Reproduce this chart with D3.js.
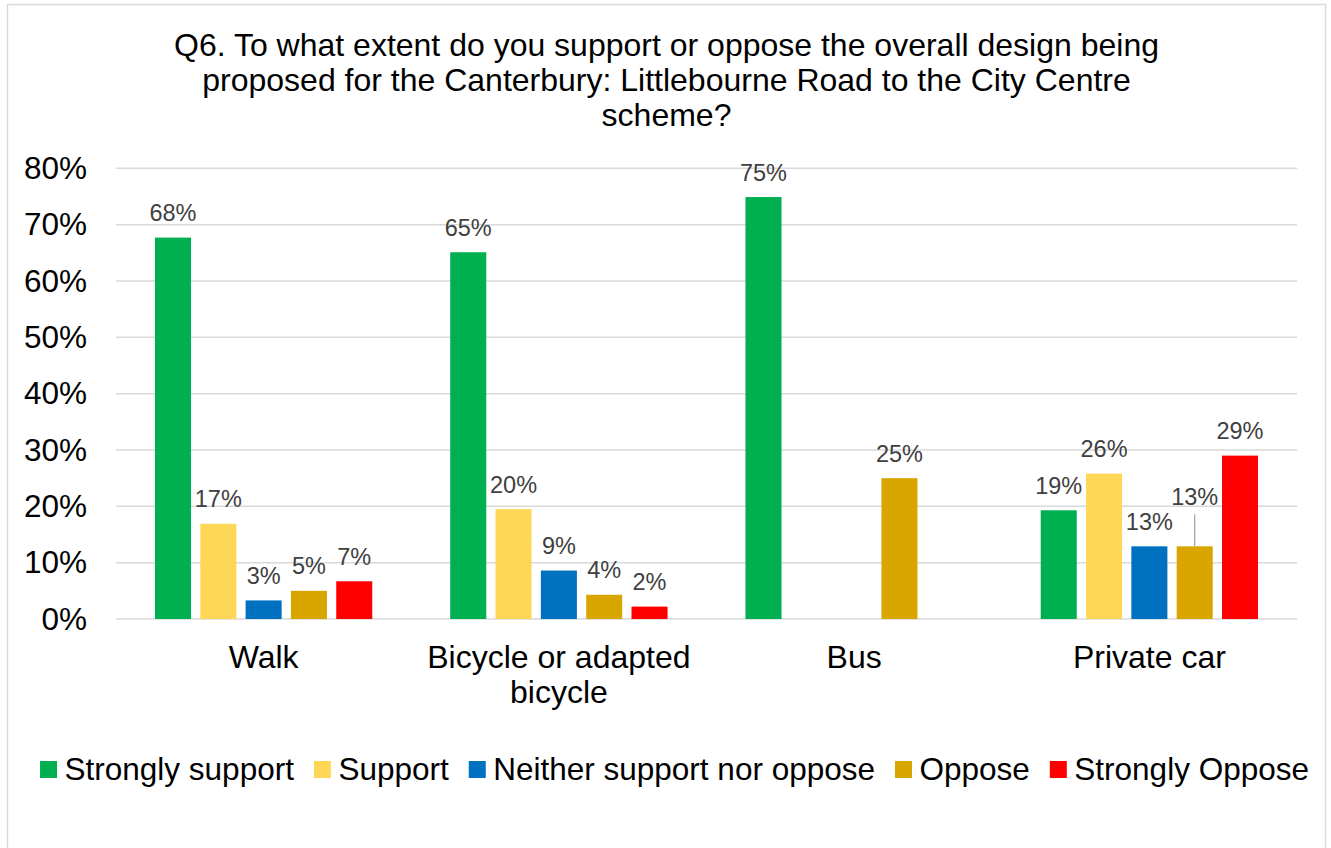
<!DOCTYPE html>
<html>
<head>
<meta charset="utf-8">
<script src="https://cdn.jsdelivr.net/npm/d3@7"></script>
<style>
  html, body { margin: 0; padding: 0; background: #fff; }
  svg { display: block; font-family: "Liberation Sans", Arial, sans-serif; }
</style>
</head>
<body>
<svg id="chart" width="1331" height="848"></svg>
<script>
// Survey responses by travel mode (percent of respondents)
const titleLines = [
  "Q6. To what extent do you support or oppose the overall design being",
  "proposed for the Canterbury: Littlebourne Road to the City Centre",
  "scheme?"
];
const categories = ["Walk", "Bicycle or adapted bicycle", "Bus", "Private car"];
const categoryLines = [["Walk"], ["Bicycle or adapted", "bicycle"], ["Bus"], ["Private car"]];
const series = ["Strongly support", "Support", "Neither support nor oppose", "Oppose", "Strongly Oppose"];
const seriesColors = ["#00B050", "#FFD757", "#0070C0", "#D9A600", "#FF0000"];

const stronglySupport = [67.7, 65.1, 74.9, 19.3];
const support         = [16.9, 19.5, null, 25.8];
const neither         = [3.3, 8.6, null, 12.9];
const oppose          = [5.0, 4.3, 25.0, 12.9];
const stronglyOppose  = [6.7, 2.2, null, 29.0];
const seriesValues = [stronglySupport, support, neither, oppose, stronglyOppose];

const yTicks = [0, 10, 20, 30, 40, 50, 60, 70, 80];

const svg = d3.select("#chart");
const plot = { left: 116, right: 1297, top: 168.3, bottom: 619 };
const FONT = "'Liberation Sans', Arial, sans-serif";

// chart frame
svg.append("rect")
  .attr("x", 7.5).attr("y", 4.5)
  .attr("width", 1318).attr("height", 900)
  .attr("fill", "#fff").attr("stroke", "#d9d9d9").attr("stroke-width", 1.5);

// title
svg.append("text")
  .attr("x", 666.5).attr("y", 56)
  .attr("text-anchor", "middle")
  .attr("font-size", 32).attr("fill", "#000")
  .selectAll("tspan").data(titleLines).join("tspan")
  .attr("x", 666.5).attr("dy", (d, i) => i === 0 ? 0 : 35)
  .text(d => d);

const y = d3.scaleLinear().domain([0, 80]).range([plot.bottom, plot.top]);
const x0 = d3.scaleBand().domain(categories).range([plot.left, plot.right]).padding(0);
const x1 = d3.scaleBand().domain(series).range([0, x0.bandwidth()])
  .paddingInner(0.205).paddingOuter(0.86);

// gridlines
svg.append("g").selectAll("line").data(yTicks).join("line")
  .attr("x1", plot.left).attr("x2", plot.right)
  .attr("y1", d => y(d)).attr("y2", d => y(d))
  .attr("stroke", "#d9d9d9").attr("stroke-width", 1.5);

// y axis labels
const yAxis = d3.axisLeft(y).tickValues(yTicks).tickFormat(d => d + "%").tickSize(0).tickPadding(29);
const gy = svg.append("g").attr("transform", `translate(${plot.left},0)`).call(yAxis);
gy.select(".domain").remove();
gy.selectAll("text").attr("font-size", 31.5).attr("fill", "#000").attr("font-family", FONT);

// category labels
const xAxis = d3.axisBottom(x0).tickSize(0).tickFormat(() => "");
const gx = svg.append("g").attr("transform", `translate(0,${plot.bottom})`).call(xAxis);
gx.select(".domain").remove();
gx.selectAll(".tick").each(function(d, i) {
  d3.select(this).select("text").remove();
  d3.select(this).append("text")
    .attr("text-anchor", "middle")
    .attr("font-size", 32).attr("fill", "#000")
    .attr("font-family", FONT)
    .selectAll("tspan").data(categoryLines[i]).join("tspan")
    .attr("x", 0).attr("y", (t, j) => 49 + j * 35)
    .text(t => t);
});

// bars
const flat = [];
series.forEach((s, si) => {
  categories.forEach((c, ci) => {
    const v = seriesValues[si][ci];
    if (v != null) flat.push({ s, si, c, ci, v });
  });
});

svg.append("g").selectAll("rect").data(flat).join("rect")
  .attr("x", d => x0(d.c) + x1(d.s))
  .attr("y", d => y(d.v))
  .attr("width", x1.bandwidth())
  .attr("height", d => y(0) - y(d.v))
  .attr("fill", d => seriesColors[d.si]);

// value labels; the Oppose label on Private car is lifted clear of its neighbour with a leader line
const fmt = v => Math.round(v) + "%";
const lifted = d => d.c === "Private car" && d.s === "Oppose";
const labelLift = 24.5, leaderLen = 32;
const cxBar = d => x0(d.c) + x1(d.s) + x1.bandwidth() / 2;

const labels = svg.append("g");
labels.selectAll("line").data(flat.filter(lifted)).join("line")
  .attr("x1", cxBar).attr("x2", cxBar)
  .attr("y1", d => y(d.v) - leaderLen)
  .attr("y2", d => y(d.v))
  .attr("stroke", "#a6a6a6").attr("stroke-width", 1.3);

labels.selectAll("text").data(flat).join("text")
  .attr("x", cxBar)
  .attr("y", d => y(d.v) - 16.5 - (lifted(d) ? labelLift : 0))
  .attr("text-anchor", "middle")
  .attr("font-size", 23.5).attr("fill", "#404040")
  .text(d => fmt(d.v));

// legend
const legend = svg.append("g");
const sw = 17, gapText = 7.5, gapItem = 20;
const items = legend.selectAll("g").data(series).join("g");
items.append("rect")
  .attr("width", sw).attr("height", sw)
  .attr("y", 761)
  .attr("fill", (d, i) => seriesColors[i]);
items.append("text")
  .attr("x", sw + gapText).attr("y", 780)
  .attr("font-size", 31.5).attr("fill", "#000")
  .text(d => d);
const widths = [];
items.each(function() {
  widths.push(sw + gapText + this.querySelector("text").getComputedTextLength());
});
const total = d3.sum(widths) + gapItem * (widths.length - 1);
let cx = 674.5 - total / 2;
items.each(function(d, i) {
  d3.select(this).attr("transform", `translate(${cx},0)`);
  cx += widths[i] + gapItem;
});
</script>
</body>
</html>
